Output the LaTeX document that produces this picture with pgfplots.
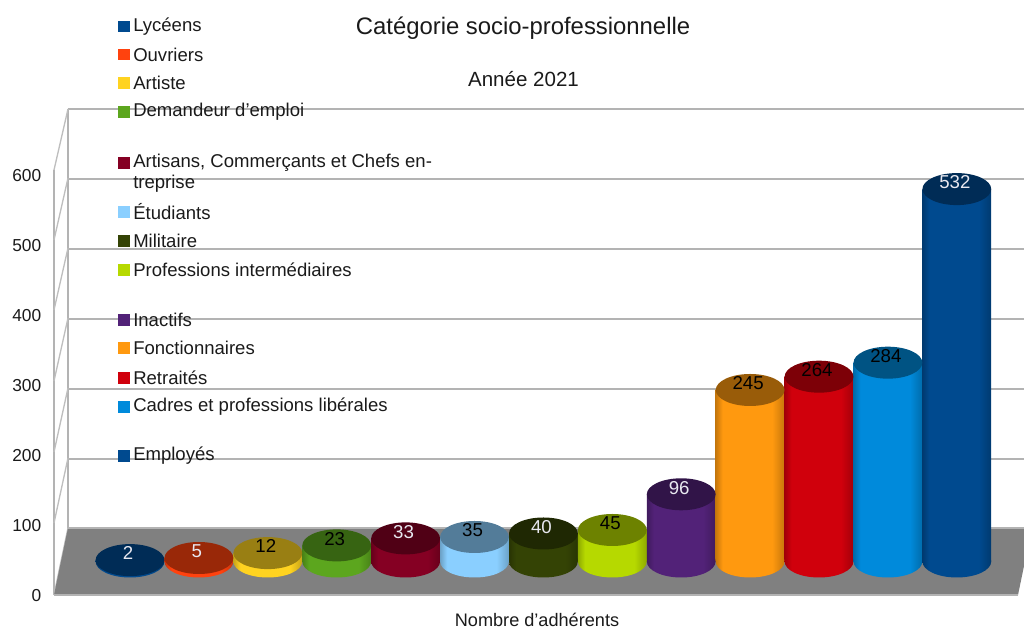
\documentclass[border=0pt]{standalone}
\usepackage{pgfplots}
\pgfplotsset{compat=1.18}
\usepackage{fontspec}
\setmainfont{Liberation Sans}
\usetikzlibrary{shapes.geometric}
\definecolor{gridgrey}{HTML}{B3B3B3}
\definecolor{floorgrey}{HTML}{808080}
\definecolor{lab}{HTML}{E8E8F0}
\definecolor{txt}{HTML}{1A1A1A}
% one cylinder colour: body shading across the width, darker lid
\newcommand\defcyl[2]{%
  \definecolor{c#1}{HTML}{#2}%
  \colorlet{e#1}{c#1!78!black}%
  \colorlet{t#1}{c#1!60!black}%
  \pgfdeclarehorizontalshading{cyl#1}{100bp}{color(0bp)=(e#1); color(25bp)=(e#1); color(30bp)=(c#1); color(66bp)=(c#1); color(75bp)=(e#1); color(100bp)=(e#1)}%
}
\defcyl{A}{004A8F}\defcyl{B}{FF420E}\defcyl{C}{FFD320}\defcyl{D}{5CA61E}
\defcyl{E}{850023}\defcyl{F}{8ACFFF}\defcyl{G}{344305}\defcyl{H}{B6D900}
\defcyl{I}{522278}\defcyl{J}{FF990F}\defcyl{K}{D0000C}\defcyl{L}{008ADB}
\newcommand\cyl[4]{%
  \addplot[draw=none,mark=none,nodes near coords={\rule{0pt}{0pt}},
    every node near coord/.style={anchor=center,shape=ellipse,minimum width=51.6pt,minimum height=24pt,inner sep=0pt,outer sep=0pt,shade,shading=cyl#3}]
    coordinates {(#1,0)};
  \addplot[ybar,bar width=51.6pt,bar shift=0pt,draw=none,shade,shading=cyl#3] coordinates {(#1,#2)};
  \addplot[draw=none,mark=none,nodes near coords={\rule{0pt}{0pt}},
    every node near coord/.style={anchor=center,shape=ellipse,minimum width=51.6pt,minimum height=24pt,inner sep=0pt,outer sep=0pt,fill=t#3}]
    coordinates {(#1,#2)};
  \addplot[draw=none,mark=none,nodes near coords={\pgfmathprintnumber[assume math mode=true]{\pgfplotspointmeta}},
    point meta=y,
    every node near coord/.style={anchor=center,yshift=5pt,xshift=-1.5pt,font=\fontsize{14}{14}\selectfont,text=#4}]
    coordinates {(#1,#2)};
}
\newcommand\leg[3]{%
  \fill[#1] (118,#2-5.7) rectangle (129.5,#2+5.7);
  \node[anchor=west,inner sep=0pt,text=txt,font=\fontsize{13.9}{16}\selectfont] at (133,#2) {#3};
}
\begin{document}
\begin{tikzpicture}[x=0.75pt,y=-0.75pt]
\path[use as bounding box] (0,0) rectangle (1024,631);
% back wall with its grid, tick labels, title and axis label
\begin{axis}[at={(51pt,-473.25pt)},anchor=south west,scale only axis,
  width=717pt,height=473.25pt,
  xmin=0,xmax=1,ymin=-146.6,ymax=756.1,
  axis line style={draw=none},
  xtick=\empty,
  major tick length=0pt,
  ytick={0,100,200,300,400,500,600},
  ymajorgrids,
  major grid style={draw=gridgrey,line width=1.5pt},
  clip=false,
  /pgf/number format/assume math mode=true,
  yticklabel style={anchor=east,inner sep=0pt,xshift=-19.9pt,yshift=-50pt,
    font=\fontsize{13}{16}\selectfont,text=txt},
  title={Catégorie socio-professionnelle},
  title style={at={(axis description cs:0.476,0.943)},anchor=center,inner sep=0pt,yshift=0pt,font=\fontsize{17.9}{20}\selectfont,text=txt},
  xlabel={Nombre d’adhérents},
  xlabel style={at={(axis description cs:0.4906,0.0174)},anchor=center,inner sep=0pt,font=\fontsize{13.6}{16}\selectfont,text=txt},
]
\addplot[draw=none,mark=none] coordinates {(0,0) (1,600)};
\end{axis}
\node[inner sep=0pt,text=txt,font=\fontsize{15.4}{18}\selectfont] at (523.5,79) {Année 2021};
% side wall
\draw[gridgrey,line width=1.5pt] (68,109) -- (68,528);
\draw[gridgrey,line width=1pt] (54,170) -- (54,595);
\foreach \f/\b in {170/109,240/178,310/248,381/318,452/388,523/458,595/528}
  \draw[gridgrey!85,line width=1pt] (54,\f) -- (68,\b);
% floor
\fill[floorgrey] (54,595) -- (68,528) -- (1024,528) -- (1024,566) -- (1018,595) -- cycle;
\draw[gridgrey,line width=0.8pt] (54,595) -- (1018,595);
\draw[gridgrey,line width=0.8pt] (68,528) -- (1024,528);
% cylinders
\begin{axis}[at={(0pt,-473.25pt)},anchor=south west,scale only axis,
  width=768pt,height=473.25pt,
  xmin=-1.887,xmax=12.975,ymin=-99.3,ymax=802.1,
  axis lines=none,clip=false,
]
\cyl{0}{2}{A}{lab}
\cyl{1}{5}{B}{lab}
\cyl{2}{12}{C}{black}
\cyl{3}{23}{D}{black}
\cyl{4}{33}{E}{lab}
\cyl{5}{35}{F}{black}
\cyl{6}{40}{G}{lab}
\cyl{7}{45}{H}{black}
\cyl{8}{96}{I}{lab}
\cyl{9}{245}{J}{black}
\cyl{10}{264}{K}{black}
\cyl{11}{284}{L}{black}
\cyl{12}{532}{A}{lab}
\end{axis}
% legend, drawn by hand because of its uneven spacing
\leg{cA}{26.5}{Lycéens}
\leg{cB}{54.5}{Ouvriers}
\leg{cC}{83}{Artiste}
\leg{cD}{112}{Demandeur d'emploi}
\leg{cE}{163}{Artisans, Commerçants et Chefs en-}
\node[anchor=west,inner sep=0pt,text=txt,font=\fontsize{13.9}{16}\selectfont] at (133,184) {treprise};
\leg{cF}{212}{Étudiants}
\leg{cG}{241}{Militaire}
\leg{cH}{270}{Professions intermédiaires}
\leg{cI}{320}{Inactifs}
\leg{cJ}{348}{Fonctionnaires}
\leg{cK}{378}{Retraités}
\leg{cL}{407}{Cadres et professions libérales}
\leg{cA}{456}{Employés}
\end{tikzpicture}
\end{document}
